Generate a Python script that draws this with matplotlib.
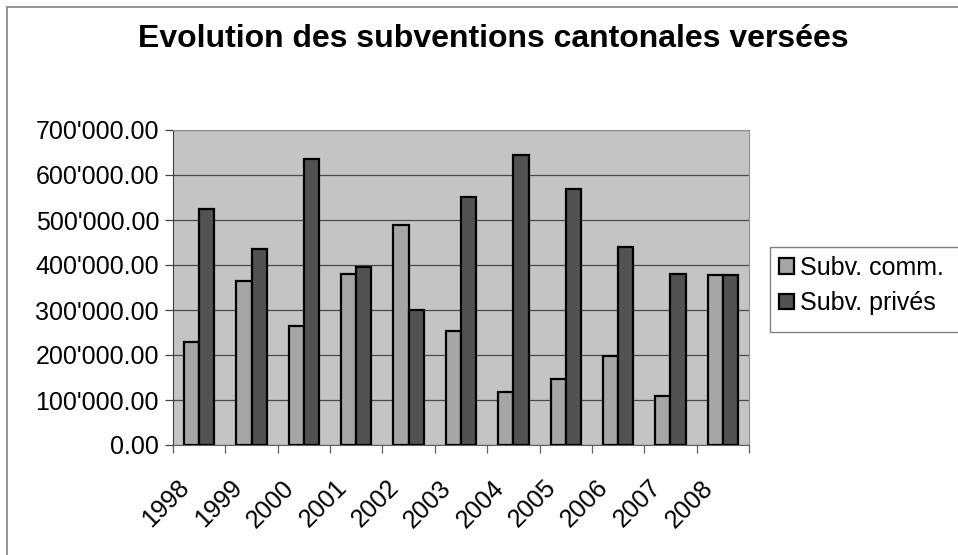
""" Evolution des subventions cantonales versées """

import matplotlib.pyplot as plt
import matplotlib.transforms as mtransforms
import numpy as np
from matplotlib.patches import Rectangle
from matplotlib.ticker import FuncFormatter

years = ['1998', '1999', '2000', '2001', '2002', '2003',
         '2004', '2005', '2006', '2007', '2008']
subv_comm = [230000, 364000, 265000, 381000, 488000, 253000,
             118000, 146000, 198000, 110000, 377000]
subv_prives = [524000, 435000, 635000, 395000, 301000, 550000,
               645000, 568000, 439000, 381000, 377000]


def swiss_format(value, pos):
    return f'{value:,.2f}'.replace(',', "'")


def main():
    plt.rcParams['font.family'] = ['Liberation Sans', 'DejaVu Sans']

    fig = plt.figure(figsize=(9.58, 5.55), dpi=100)
    W, H = 958, 555

    # outer chart frame
    fig.patches.append(Rectangle((7 / W, -0.1), 1.2, 1 - 7 / H + 0.1,
                                 transform=fig.transFigure, fill=False,
                                 edgecolor='#808080', linewidth=1.2))

    ax = fig.add_axes([173 / W, 110 / H, 576 / W, 315 / H])
    ax.set_facecolor('#c4c4c4')

    x = np.arange(len(years))
    width = 0.29
    ax.bar(x - width / 2, subv_comm, width, color='#a6a6a6',
           edgecolor='black', linewidth=1.6, label='Subv. comm.', zorder=3)
    ax.bar(x + width / 2, subv_prives, width, color='#525252',
           edgecolor='black', linewidth=1.6, label='Subv. privés', zorder=3)

    ax.set_xlim(-0.5, len(years) - 0.5)
    ax.set_ylim(0, 700000)
    ax.set_yticks(np.arange(0, 700001, 100000))
    ax.yaxis.set_major_formatter(FuncFormatter(swiss_format))
    ax.yaxis.grid(True, color='#4a4a4a', linewidth=0.9, zorder=1)
    ax.set_axisbelow(True)

    # ticks between categories, labels at category centres
    ax.set_xticks(np.arange(-0.5, len(years)), minor=False)
    ax.set_xticklabels([])
    ax.set_xticks(x, minor=True)
    ax.set_xticklabels(years, minor=True, rotation=45, ha='right',
                       rotation_mode='anchor', fontsize=18)
    ax.tick_params(axis='x', which='minor', length=0, pad=22)
    ax.tick_params(axis='x', which='major', length=6, width=0.9,
                   color='#606060')
    ax.tick_params(axis='y', length=6, width=0.9, color='#404040',
                   labelsize=18, pad=4)
    shift = mtransforms.ScaledTranslation(-0.22, 0, fig.dpi_scale_trans)
    for label in ax.get_xticklabels(minor=True):
        label.set_transform(label.get_transform() + shift)

    for side in ['top', 'right']:
        ax.spines[side].set_color('#909090')
        ax.spines[side].set_linestyle((0, (1, 1)))
    ax.spines['left'].set_color('#404040')
    ax.spines['bottom'].set_color('#606060')

    fig.text(493 / W, 1 - 39 / H, 'Evolution des subventions cantonales versées',
             ha='center', va='center', fontsize=23, fontweight='bold')

    # legend box runs off the right edge, as in the original
    fig.patches.append(Rectangle((770 / W, 1 - 332 / H), 0.3, 85 / H,
                                 transform=fig.transFigure, facecolor='white',
                                 edgecolor='#808080', linewidth=1.0))
    fig.legend(loc='upper left', bbox_to_anchor=(774 / W, 1 - 251 / H),
               fontsize=18, frameon=False, handlelength=0.6,
               handleheight=0.6, handletextpad=0.25, borderpad=0.2,
               labelspacing=0.45, borderaxespad=0)

    fig.savefig('out.png', dpi=100)


if __name__ == '__main__':
    main()
